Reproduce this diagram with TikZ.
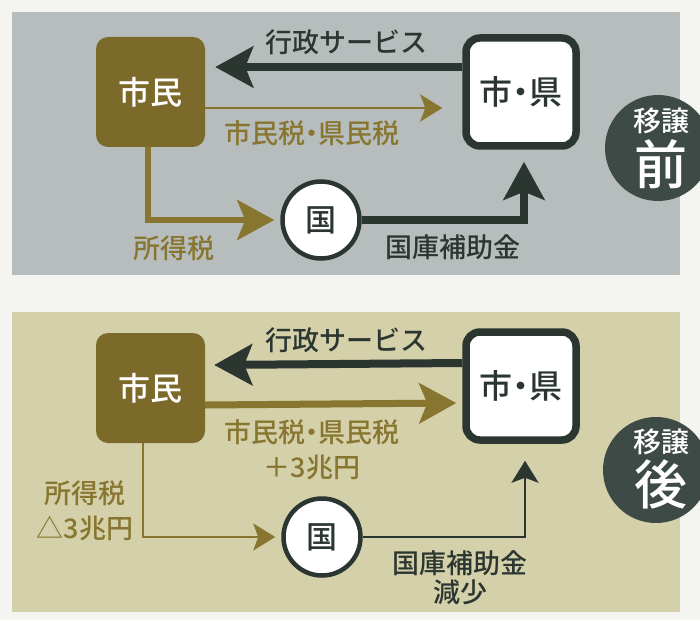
\documentclass[tikz,border=0pt]{standalone}
\usepackage{fontspec}
\newfontfamily\jp[BoldFont=Noto Sans CJK JP Medium]{Noto Sans CJK JP}
\usetikzlibrary{arrows.meta}
\definecolor{pagebg}{HTML}{F4F4F1}
\definecolor{graypanel}{HTML}{B6BDBC}
\definecolor{khaki}{HTML}{D3D0AA}
\definecolor{olive}{HTML}{7C6A2B}
\definecolor{olivetext}{HTML}{88752F}
\definecolor{darkg}{HTML}{2B3631}
\definecolor{badgec}{HTML}{3D4A45}
\newcommand\setfs[1]{\fontsize{#1}{#1}\selectfont}
\newcommand\ndot{\kern-0.25em・\kern-0.25em}
\begin{document}
\begin{tikzpicture}[x=1pt,y=-1pt,
  font=\jp\bfseries,
  citizen/.style={rounded corners=12pt, fill=olive, minimum width=109pt, minimum height=110pt, text=white, inner sep=0pt, font=\jp\bfseries\setfs{32}},
  govbox/.style={rounded corners=14pt, draw=darkg, line width=7.5pt, fill=white, minimum width=110pt, minimum height=108pt, inner sep=0pt, font=\jp\bfseries\setfs{33}, text=darkg},
  kuni/.style={circle, draw=darkg, line width=4.5pt, fill=white, minimum size=77pt, inner sep=0pt, font=\jp\bfseries\setfs{31}, text=darkg},
  badge/.style={circle, fill=badgec, minimum size=106pt, inner sep=0pt},
  darklbl/.style={text=darkg, font=\jp\bfseries\setfs{27}, inner sep=0pt},
  olivelbl/.style={text=olivetext, font=\jp\bfseries\setfs{27}, inner sep=0pt},
  badgesmall/.style={text=white, font=\jp\bfseries\setfs{28}, inner sep=0pt},
  badgebig/.style={text=white, font=\jp\bfseries\setfs{53}, inner sep=0pt},
  darkthick/.style={draw=darkg, line width=8pt, -{Stealth[length=38pt, width=41pt, inset=8pt]}},
  darkthin/.style={draw=darkg, line width=2.5pt, -{Stealth[length=22pt, width=27pt, inset=5pt]}},
  olivethick/.style={draw=olivetext, line width=7pt, -{Stealth[length=37pt, width=40pt, inset=8pt]}},
  olivemid/.style={draw=olivetext, line width=6pt, -{Stealth[length=37pt, width=40pt, inset=8pt]}},
  olivethin/.style={draw=olivetext, line width=2.5pt, -{Stealth[length=22pt, width=27pt, inset=5pt]}},
]
\useasboundingbox (0,0) rectangle (700,620);
\clip (0,0) rectangle (700,620);
\fill[pagebg] (0,0) rectangle (700,620);
% panels
\fill[graypanel] (12,12) rectangle (680,275);
\fill[khaki] (12,312) rectangle (680,612);

% ===== top panel (before transfer) =====
\node[citizen] (cit1) at (150.5,92) {市民};
\node[govbox] (gov1) at (521,92) {市\ndot 県};
\node[kuni] (kuni1) at (321,220) {国};
\node[badge] (bad1) at (658,148) {};
\node[badgesmall] (bs1) at (661,121) {移譲};
\node[badgebig] (bb1) at (661,164) {前};

\draw[darkthick] ([yshift=25pt]gov1.west) -- ([xshift=10pt,yshift=25pt]cit1.east);
\draw[olivethin] ([yshift=-16pt]cit1.east) -- ([xshift=-20pt,yshift=-16pt]gov1.west);
\draw[olivemid] ([xshift=-3pt]cit1.south) |- ([xshift=-6pt]kuni1.west);
\draw[darkthick] (kuni1.east) -| ([xshift=3pt,yshift=-12pt]gov1.south);

\node[darklbl] (l1) at (346,42) {行政サービス};
\node[olivelbl] (l2) at (312,133) {市民税\ndot 県民税};
\node[olivelbl] (l3) at (174,248) {所得税};
\node[darklbl] (l4) at (453,247) {国庫補助金};

% ===== bottom panel (after transfer) =====
\node[citizen] (cit2) at (150.5,388) {市民};
\node[govbox] (gov2) at (521,386) {市\ndot 県};
\node[kuni] (kuni2) at (322,537) {国};
\node[badge] (bad2) at (656,470) {};
\node[badgesmall] (bs2) at (661,442) {移譲};
\node[badgebig] (bb2) at (661,484) {後};

\draw[darkthick] ([yshift=23pt]gov2.west) -- ([xshift=9pt,yshift=23pt]cit2.east);
\draw[olivethick] ([yshift=-17pt]cit2.east) -- ([xshift=-6pt,yshift=-17pt]gov2.west);
\draw[olivethin] ([xshift=-7.5pt]cit2.south) |- ([xshift=-6pt]kuni2.west);
\draw[darkthin] (kuni2.east) -| ([xshift=4pt,yshift=-17pt]gov2.south);

\node[darklbl] (m1) at (346,340) {行政サービス};
\node[olivelbl] (m2) at (312,432) {市民税\ndot 県民税};
\node[olivelbl] (m3) at (312,467) {＋3兆円};
\node[olivelbl] (m4) at (85,493) {所得税};
\node[olivelbl] (m5) at (85,528) {△3兆円};
\node[darklbl] (m6) at (460,563) {国庫補助金};
\node[darklbl] (m7) at (460,592) {減少};
\end{tikzpicture}
\end{document}
